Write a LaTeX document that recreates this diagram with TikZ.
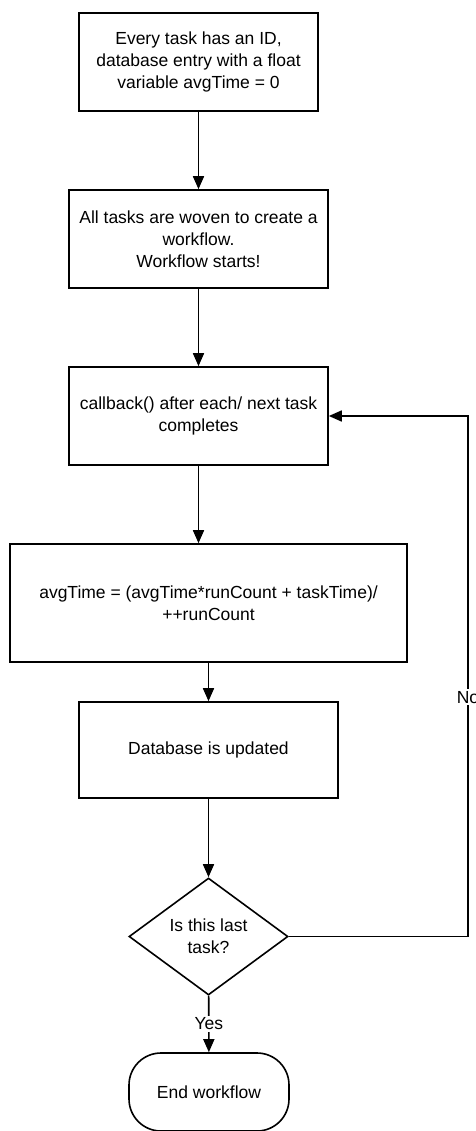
\documentclass[tikz,border=0pt]{standalone}
\usepackage{fontspec}
\setmainfont{Liberation Sans}
\usetikzlibrary{arrows.meta, shapes.geometric}

\begin{document}
\begin{tikzpicture}[x=1pt, y=-1pt, >={Triangle[length=13pt,width=11pt]},
    font=\fontsize{17.5}{22}\selectfont, line width=1.6pt,
    stepbox/.style={draw, align=center, inner sep=0pt},
    decision/.style={draw, diamond, aspect=1.36, align=center, inner sep=0pt,
                     minimum width=159pt, minimum height=117pt},
    terminal/.style={draw, rounded corners=32pt, inner sep=0pt,
                     minimum width=160pt, minimum height=78pt},
    lbl/.style={fill=white, inner sep=2pt}]
  \useasboundingbox (0,0) rectangle (475,1131);
  \node[stepbox, minimum width=239pt, minimum height=98pt] (init) at (198.5,62)
    {Every task has an ID,\\database entry with a float\\variable avgTime = 0};
  \node[stepbox, minimum width=259pt, minimum height=98pt] (weave) at (198.5,239)
    {All tasks are woven to create a\\workflow.\\Workflow starts!};
  \node[stepbox, minimum width=259pt, minimum height=98pt] (callback) at (198.5,416)
    {callback() after each/ next task\\completes};
  \node[stepbox, minimum width=397pt, minimum height=118pt] (avg) at (208.5,603)
    {avgTime = (avgTime*runCount + taskTime)/\\++runCount};
  \node[stepbox, minimum width=259pt, minimum height=96pt] (dbupd) at (208.5,750)
    {Database is updated};
  \node[decision] (last) at (208.5,936.5) {Is this last\\task?};
  \node[terminal] (endwf) at (209,1092) {End workflow};
  \coordinate (loopdn) at (468,936.5);
  \coordinate (loopup) at (468,416);

  \draw[->] (init) -- (weave);
  \draw[->] (weave) -- (callback);
  \draw[->] (callback.south) -- (callback.south |- avg.north);
  \draw[->] (avg) -- (dbupd);
  \draw[->] (dbupd) -- (last);
  \draw[->] (last) -- node[lbl] {Yes} (endwf);
  \draw[->] (last.east) -- (loopdn) -- node[lbl, pos=0.46] {No} (loopup) -- (callback.east);
\end{tikzpicture}
\end{document}
